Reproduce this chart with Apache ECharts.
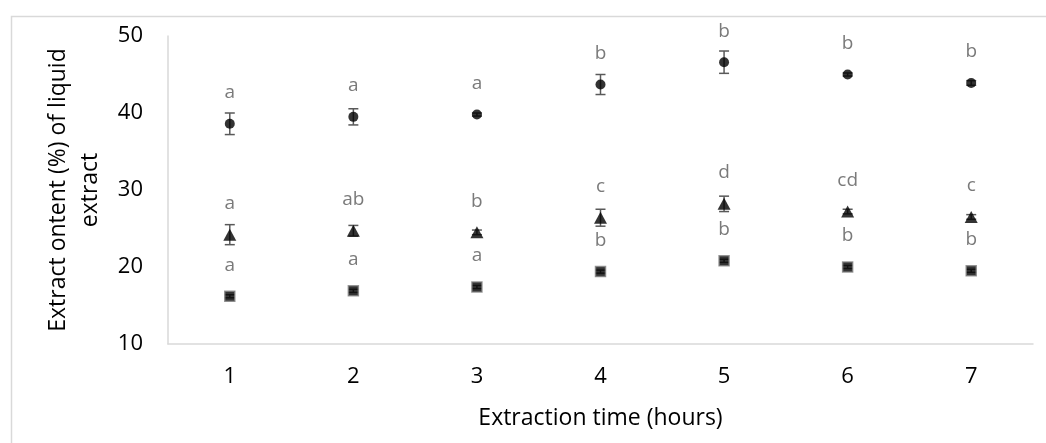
<!DOCTYPE html>
<html>
<head>
<meta charset="utf-8">
<script src="https://cdn.jsdelivr.net/npm/echarts@6/dist/echarts.min.js"></script>
<style>
html,body{margin:0;padding:0;background:#fff;}
#c{width:1046px;height:443px;}
</style>
</head>
<body>
<div id="c"></div>
<script>
const hours = ['1','2','3','4','5','6','7'];
const circleVals = [38.6, 39.5, 39.8, 43.7, 46.6, 45.0, 43.9];
const circleErr = [1.4, 1.05, 0.2, 1.3, 1.45, 0.2, 0.3];
const circleLetters = ['a','a','a','b','b','b','b'];
const triangleVals = [24.2, 24.7, 24.5, 26.4, 28.2, 27.2, 26.5];
const triangleErr = [1.3, 0.7, 0.3, 1.1, 1.0, 0.3, 0.3];
const triangleLetters = ['a','ab','b','c','d','cd','c'];
const squareVals = [16.2, 16.9, 17.4, 19.4, 20.8, 20.0, 19.5];
const squareErr = [0.2, 0.2, 0.2, 0.2, 0.2, 0.2, 0.2];
const squareLetters = ['a','a','a','b','b','b','b'];
const yTicks = [10, 50, 10]; // min, max, interval

const FONT = '"Open Sans", "Noto Sans", sans-serif';

function errData(vals, errs){ return vals.map((v,i)=>[i, v, errs[i]]); }
function errSeries(vals, errs){
  return {
    type: 'custom',
    data: errData(vals, errs),
    z: 1,
    silent: true,
    renderItem: function(params, api){
      const x = api.value(0), y = api.value(1), e = api.value(2);
      const top = api.coord([x, y + e]);
      const bot = api.coord([x, y - e]);
      const w = 5;
      const st = {stroke:'#595959', lineWidth:1.5};
      return {type:'group', children:[
        {type:'line', shape:{x1:top[0],y1:top[1],x2:bot[0],y2:bot[1]}, style:st},
        {type:'line', shape:{x1:top[0]-w,y1:top[1],x2:top[0]+w,y2:top[1]}, style:st},
        {type:'line', shape:{x1:bot[0]-w,y1:bot[1],x2:bot[0]+w,y2:bot[1]}, style:st}
      ]};
    }
  };
}
function ptSeries(vals, letters, symbol, size, itemStyle){
  return {
    type: 'scatter',
    data: vals.map((v,i)=>[i, v]),
    symbol: symbol,
    symbolSize: size,
    itemStyle: itemStyle,
    z: 3,
    label: {
      show: true,
      position: 'inside',
      offset: [0, -31],
      formatter: p => letters[p.dataIndex],
      color: '#595959',
      fontSize: 19,
      fontFamily: FONT
    }
  };
}

const chart = echarts.init(document.getElementById('c'), null, {renderer:'canvas'});
chart.setOption({
  backgroundColor: '#fff',
  animation: false,
  graphic: [{
    type: 'rect', left: 9, top: 14,
    shape: {x:0, y:0, width: 1100, height: 500},
    style: {fill: 'none', stroke: '#d9d9d9', lineWidth: 1.5},
    z: -10
  }],
  grid: {left: 168, right: 13, top: 36, bottom: 99, containLabel: false},
  xAxis: {
    type: 'category',
    data: hours,
    boundaryGap: true,
    axisLine: {show: true, lineStyle: {color: '#d9d9d9', width: 1.5}},
    axisTick: {show: false},
    axisLabel: {color: '#000', fontSize: 22, fontFamily: FONT, margin: 22},
    splitLine: {show: false},
    name: 'Extraction time (hours)',
    nameLocation: 'middle',
    nameGap: 63,
    nameTextStyle: {color: '#000', fontSize: 23, fontFamily: FONT}
  },
  yAxis: {
    type: 'value',
    min: yTicks[0], max: yTicks[1], interval: yTicks[2],
    axisLine: {show: true, lineStyle: {color: '#d9d9d9', width: 1.5}},
    axisTick: {show: false},
    axisLabel: {color: '#000', fontSize: 22, fontFamily: FONT, margin: 25},
    splitLine: {show: false},
    name: 'Extract ontent (%) of liquid\nextract',
    nameLocation: 'middle',
    nameGap: 61,
    nameTextStyle: {color: '#000', fontSize: 23, fontFamily: FONT, lineHeight: 32}
  },
  series: [
    errSeries(circleVals, circleErr),
    errSeries(triangleVals, triangleErr),
    errSeries(squareVals, squareErr),
    ptSeries(circleVals, circleLetters, 'circle', 10, {color:'#000'}),
    ptSeries(triangleVals, triangleLetters, 'triangle', [13, 12], {color:'#000'}),
    ptSeries(squareVals, squareLetters, 'rect', 10, {color:'#000', borderColor:'#7f7f7f', borderWidth:1.5})
  ]
});
</script>
</body>
</html>
